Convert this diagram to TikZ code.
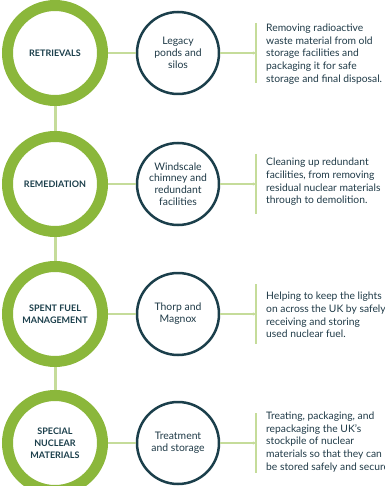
\documentclass[tikz,border=0pt]{standalone}
\usepackage{fontspec}
\setmainfont{Lato}
\usetikzlibrary{arrows.meta}
\definecolor{ringgreen}{HTML}{8BB73B}
\definecolor{linkgreen}{HTML}{C5DC9A}
\definecolor{navy}{HTML}{1B3F4B}
\definecolor{inktext}{HTML}{1F3A47}

\begin{document}
\begin{tikzpicture}[x=1pt,y=-1pt,
  stage/.style={circle,draw=ringgreen,line width=11pt,minimum size=95pt,fill=white,inner sep=0pt,align=center,text=navy,font=\bfseries\fontsize{9}{11.8}\selectfont},
  site/.style={circle,draw=navy,line width=2.5pt,minimum size=82pt,fill=white,inner sep=0pt,align=center,text=inktext,font=\fontsize{10.4}{11.8}\selectfont},
  note/.style={anchor=west,inner sep=0pt,align=left,text=inktext,font=\fontsize{10.3}{12.6}\selectfont},
  link/.style={draw=linkgreen,line width=2pt},
  spine/.style={draw=linkgreen,line width=3pt},
  bar/.style={draw=linkgreen,line width=1.5pt}]
\useasboundingbox (0,0) rectangle (384,486);
\coordinate (top) at (55,0);
\node [stage] (retrievals) at (55,53) {RETRIEVALS};
\node [stage] (remediation) at (55,184) {REMEDIATION};
\node [stage] (spentfuel) at (55,314) {SPENT FUEL\\MANAGEMENT};
\node [stage] (special) at (55,443) {SPECIAL\\NUCLEAR\\MATERIALS};
\draw [spine] (top) -- (retrievals);
\draw [spine] (retrievals) -- (remediation);
\draw [spine] (remediation) -- (spentfuel);
\draw [spine] (spentfuel) -- (special);
\node [site] (ponds) at (178,53) {Legacy\\ponds and\\silos};
\node [site] (chimney) at (178,184) {Windscale\\chimney and\\redundant\\facilities};
\node [site] (thorp) at (178,314) {Thorp and\\Magnox};
\node [site] (storage) at (178,443) {Treatment\\and storage};
\draw [link] (retrievals) -- (ponds);
\draw [link] (remediation) -- (chimney);
\draw [link] (spentfuel) -- (thorp);
\draw [link] (special) -- (storage);
\coordinate (bar1) at (256,53);
\coordinate (bar2) at (256,184);
\coordinate (bar3) at (256,314);
\coordinate (bar4) at (256,443);
\draw [link,-{Stealth[length=3pt,width=3pt]}] (ponds) -- (bar1);
\draw [link,-{Stealth[length=3pt,width=3pt]}] (chimney) -- (bar2);
\draw [link,-{Stealth[length=3pt,width=3pt]}] (thorp) -- (bar3);
\draw [link,-{Stealth[length=3pt,width=3pt]}] (storage) -- (bar4);
\draw [bar] ([yshift=30pt]bar1) -- ([yshift=-30pt]bar1);
\draw [bar] ([yshift=30pt]bar2) -- ([yshift=-30pt]bar2);
\draw [bar] ([yshift=30pt]bar3) -- ([yshift=-30pt]bar3);
\draw [bar] ([yshift=30pt]bar4) -- ([yshift=-30pt]bar4);
\node [note] (retrievalsnote) at (266,54) {Removing radioactive\\waste material from old\\storage facilities and\\packaging it for safe\\storage and final disposal.};
\node [note] (remediationnote) at (266,182) {Cleaning up redundant\\facilities, from removing\\residual nuclear materials\\through to demolition.};
\node [note] (spentfuelnote) at (266,315) {Helping to keep the lights\\on across the UK by safely\\receiving and storing\\used nuclear fuel.};
\node [note] (specialnote) at (266,442) {Treating, packaging, and\\repackaging the UK’s\\stockpile of nuclear\\materials so that they can\\be stored safely and securely.};
\end{tikzpicture}
\end{document}
